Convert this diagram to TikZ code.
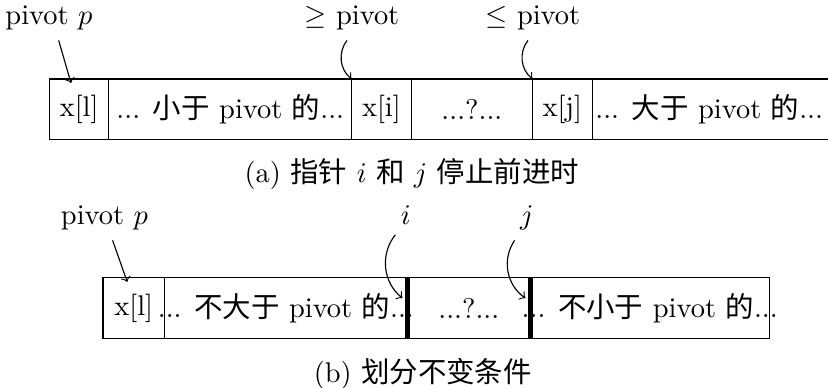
\documentclass[tikz,border=0pt]{standalone}
\usepackage{fontspec}
\newfontfamily\zh{Noto Sans CJK SC}
\usetikzlibrary{positioning}
\begin{document}
\begin{tikzpicture}[>=to, cell/.style={draw, minimum height=0.75cm, inner sep=0pt, outer sep=0pt}]

\useasboundingbox (0,0) rectangle (10.23,4.79);

% Row (a)
\node[cell, minimum width=0.735cm, anchor=west] (lA) at (0.61,3.439) {x[l]};
\node[cell, minimum width=3cm, right=0pt of lA] (ltA) {\makebox[0pt]{... {\zh 小于} pivot {\zh 的}...}};
\node[cell, minimum width=0.735cm, right=0pt of ltA] (iA) {x[i]};
\node[cell, minimum width=1.5cm, right=0pt of iA] (qA) {...?...};
\node[cell, minimum width=0.735cm, right=0pt of qA] (jA) {x[j]};
\node[cell, minimum width=3cm, right=0pt of jA] (gtA) {\makebox[0pt]{\hspace{-3pt}... {\zh 大于} pivot {\zh 的}...}};

% Labels (a)
\node[anchor=base] (pa) at (0.605,4.483) {pivot $p$};
\node[anchor=base] (ga) at (4.347,4.483) {$\geq$ pivot};
\node[anchor=base] (la) at (6.583,4.483) {$\leq$ pivot};
\node[anchor=base] (capa) at (5.088,2.536) {(a) {\zh 指针} $i$ {\zh 和} $j$ {\zh 停止前进时}};

% Arrows (a)
\draw[->] ([xshift=0.12cm]pa.south) -- ([xshift=-0.1cm,yshift=-0.05cm]lA.north);
\draw[->] ([xshift=-0.06cm]ga.south) to[bend right=45] (iA.north west);
\draw[->] ([xshift=-0.06cm]la.south) to[bend right=45] (jA.north west);

% Row (b)
\node[cell, minimum width=0.76cm, anchor=west] (lB) at (1.272,0.982) {x[l]};
\node[cell, minimum width=3cm, right=0pt of lB] (leB) {\makebox[0pt]{... {\zh 不大于} pivot {\zh 的}...}};
\node[cell, minimum width=1.52cm, right=0pt of leB] (qB) {...?...};
\node[cell, minimum width=2.95cm, right=0pt of qB] (geB) {\makebox[0pt]{... {\zh 不小于} pivot {\zh 的}...}};

% Borders i and j
\draw[line width=1.8pt] (leB.north east) -- (leB.south east);
\draw[line width=1.8pt] (qB.north east) -- (qB.south east);

% Labels (b)
\node[anchor=base] (pb) at (1.291,2.013) {pivot $p$};
\node[anchor=base] (ib) at (5.014,2.013) {$i$};
\node[anchor=base] (jb) at (6.508,2.013) {$j$};
\node[anchor=base] (capb) at (5.224,0.066) {(b) {\zh 划分不变条件}};

% Arrows (b)
\draw[->] ([xshift=0.1cm]pb.south) -- ([xshift=-0.08cm,yshift=-0.05cm]lB.north);
\draw[->] ([xshift=-0.13cm]ib.south) to[bend right=45] ([xshift=-0.06cm,yshift=-0.25cm]leB.north east);
\draw[->] ([xshift=-0.15cm]jb.south) to[bend right=45] ([xshift=-0.06cm,yshift=-0.25cm]qB.north east);

\end{tikzpicture}
\end{document}
